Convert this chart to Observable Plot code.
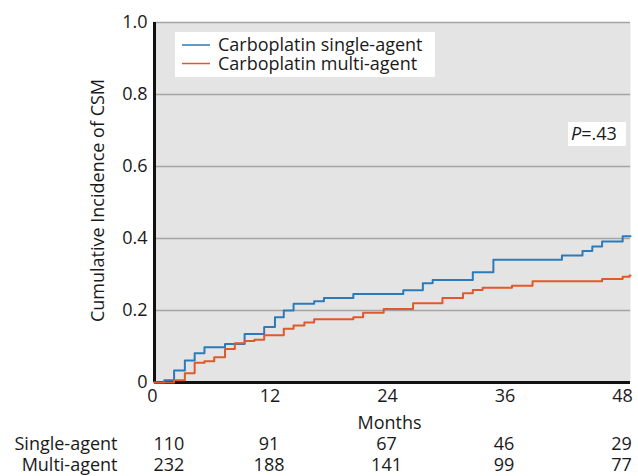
<!DOCTYPE html>
<html>
<head>
<meta charset="utf-8">
<script src="https://cdn.jsdelivr.net/npm/d3@7"></script>
<script src="https://cdn.jsdelivr.net/npm/@observablehq/plot@0.6"></script>
<style>
  body { margin: 0; background: #fff; }
  #chart svg { display: block; }
</style>
</head>
<body>
<div id="chart"></div>
<script>
// Cumulative incidence of cancer-specific mortality, step times (months) and values
const singleMonths = [1.0, 2.0, 3.1, 4.1, 5.1, 7.2, 9.2, 11.2, 12.3, 13.2, 14.2, 16.3, 17.3, 20.3, 25.4, 27.4, 28.4, 32.5, 34.6, 41.6, 43.7, 44.7, 45.7, 47.8];
const singleCif    = [0.006, 0.033, 0.061, 0.081, 0.098, 0.107, 0.135, 0.154, 0.181, 0.200, 0.219, 0.226, 0.235, 0.246, 0.256, 0.276, 0.285, 0.306, 0.341, 0.353, 0.365, 0.378, 0.392, 0.406];
const multiMonths  = [2.0, 3.1, 4.1, 5.1, 6.1, 7.2, 8.2, 9.2, 10.2, 11.2, 13.2, 14.2, 15.3, 16.3, 20.3, 21.3, 23.4, 26.4, 29.4, 31.5, 32.5, 33.5, 36.5, 38.6, 45.7, 47.8, 48.5];
const multiCif     = [0.006, 0.026, 0.055, 0.059, 0.070, 0.093, 0.109, 0.115, 0.119, 0.131, 0.149, 0.158, 0.167, 0.176, 0.181, 0.194, 0.204, 0.220, 0.235, 0.248, 0.257, 0.263, 0.269, 0.281, 0.2875, 0.294, 0.297];

const groupNames = ["Carboplatin single-agent", "Carboplatin multi-agent"];
const groupColors = ["#2b7bba", "#e0592a"];

// Number at risk table
const riskMonths = [0, 12, 24, 36, 48];
const riskSingle = [110, 91, 67, 46, 29];
const riskMulti  = [232, 188, 141, 99, 77];
const riskRowNames = ["Single-agent", "Multi-agent"];

const xTicks = [0, 12, 24, 36, 48];
const yTicks = [0, 0.2, 0.4, 0.6, 0.8, 1.0];
const followUpEnd = 48.6;
const pValueText = ".43";

function stepSeries(name, months, cif) {
  const pts = [{group: name, month: 0, cif: 0}];
  months.forEach((m, i) => pts.push({group: name, month: m, cif: cif[i]}));
  pts.push({group: name, month: followUpEnd, cif: cif[cif.length - 1]});
  return pts;
}
const curves = [
  ...stepSeries(groupNames[0], singleMonths, singleCif),
  ...stepSeries(groupNames[1], multiMonths, multiCif)
];

const font = "'Open Sans', Lato, sans-serif";
const fs = 18;

// one set of text marks per at-risk row
function riskRow(counts, name, dy) {
  const rows = riskMonths.map((m, i) => ({month: m, n: counts[i]}));
  const common = {frameAnchor: "bottom", lineAnchor: "middle", dy, fontSize: fs};
  return [
    Plot.text(rows.filter(d => d.month === 0), {...common, x: "month", text: d => String(d.n), textAnchor: "start", dx: -1}),
    Plot.text(rows.filter(d => d.month !== 0), {...common, x: "month", text: d => String(d.n), textAnchor: "middle", dx: -3}),
    Plot.text([name], {...common, x: () => 0, text: d => d, textAnchor: "end", dx: -37})
  ];
}

const chart = Plot.plot({
  width: 638,
  height: 476,
  marginLeft: 154,
  marginRight: 8,
  marginTop: 22,
  marginBottom: 94,
  style: {fontFamily: font, fontSize: fs + "px", color: "#1a1a1a", background: "#fff"},
  x: {domain: [0, followUpEnd]},
  y: {domain: [0, 1]},
  color: {domain: groupNames, range: groupColors},
  marks: [
    Plot.frame({fill: "#e4e4e4", stroke: null}),
    Plot.ruleY(yTicks.filter(d => d > 0), {stroke: "#a4a4a4", strokeWidth: 1.5}),
    Plot.axisY({ticks: yTicks, tickSize: 0, tickPadding: 7, label: null,
      tickFormat: d => d === 0 ? "0" : d.toFixed(1), fontSize: fs}),
    Plot.axisX({ticks: xTicks, tickSize: 0, tickPadding: 7, label: null, fontSize: fs, dx: -2}),
    Plot.text(["Cumulative Incidence of CSM"], {frameAnchor: "left", rotate: -90, textAnchor: "middle", dx: -56, dy: -2, fontSize: fs}),
    Plot.text(["Months"], {frameAnchor: "bottom", lineAnchor: "middle", dy: 41, dx: -3, fontSize: fs}),
    Plot.ruleX([0], {stroke: "#111", strokeWidth: 3}),
    Plot.ruleY([0], {stroke: "#111", strokeWidth: 3}),
    Plot.line(curves, {x: "month", y: "cif", z: "group", stroke: "group", curve: "step-after", strokeWidth: 2}),
    ...riskRow(riskSingle, riskRowNames[0], 62),
    ...riskRow(riskMulti, riskRowNames[1], 83)
  ]
});

document.getElementById("chart").appendChild(chart);

const svg = d3.select(chart);

// Legend box
const lg = svg.append("g").attr("font-family", font).attr("font-size", fs).attr("text-anchor", "start");
lg.append("rect").attr("x", 175).attr("y", 32).attr("width", 260).attr("height", 45).attr("fill", "#fff");
groupNames.forEach((name, i) => {
  const y = 45 + i * 18.5;
  lg.append("line").attr("x1", 182).attr("x2", 210).attr("y1", y).attr("y2", y)
    .attr("stroke", groupColors[i]).attr("stroke-width", 1.5);
  lg.append("text").attr("x", 218).attr("y", y).attr("dy", "0.35em").attr("fill", "#1a1a1a").text(name);
});

// P value box
const pg = svg.append("g").attr("font-family", font).attr("font-size", fs).attr("text-anchor", "start");
pg.append("rect").attr("x", 568).attr("y", 122).attr("width", 58).attr("height", 24).attr("fill", "#fff");
const pt = pg.append("text").attr("x", 571).attr("y", 134).attr("dy", "0.35em").attr("fill", "#1a1a1a");
pt.append("tspan").attr("font-style", "italic").text("P");
pt.append("tspan").text("=" + pValueText);
</script>
</body>
</html>
